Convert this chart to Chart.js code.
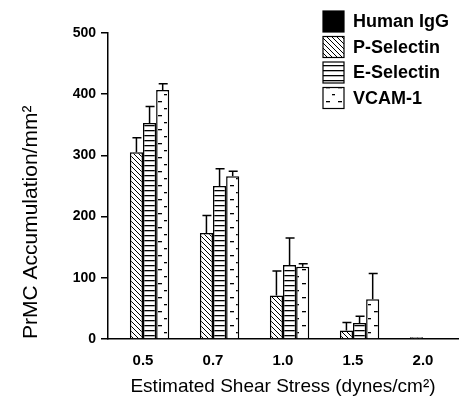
<!DOCTYPE html>
<html>
<head>
<meta charset="utf-8">
<script src="https://cdn.jsdelivr.net/npm/chart.js@4.4.0/dist/chart.umd.min.js"></script>
<style>
  body { margin: 0; background: #fff; }
  #wrap { width: 459px; height: 402px; }
</style>
</head>
<body>
<div id="wrap"><canvas id="barChart" width="459" height="402"></canvas></div>
<script>
// shear stress groups (dynes/cm2)
const shearLabels = ['0.5', '0.7', '1.0', '1.5', '2.0'];
const seriesNames = ['Human IgG', 'P-Selectin', 'E-Selectin', 'VCAM-1'];

// PrMC accumulation / mm2
const humanIgG   = [1, 1, 1, 1, 1];
const pSelectin  = [305, 173, 71, 14, 3];
const eSelectin  = [353, 250, 121, 26, 0];
const vcam1      = [407, 266, 118, 65, 0];

// upper error bar (SEM) heights
const humanIgGErr  = [0, 0, 0, 0, 0];
const pSelectinErr = [24, 29, 40, 13, 0];
const eSelectinErr = [27, 28, 44, 11, 0];
const vcam1Err     = [10, 8, 5, 42, 0];

const yTicks = [0, 100, 200, 300, 400, 500];

// --- fill patterns ---
function makePattern(w, h, draw) {
  const c = document.createElement('canvas');
  c.width = w; c.height = h;
  const g = c.getContext('2d');
  g.fillStyle = '#fff';
  g.fillRect(0, 0, w, h);
  g.strokeStyle = '#000';
  g.fillStyle = '#000';
  draw(g);
  return g.createPattern(c, 'repeat');
}
const ctx0 = document.getElementById('barChart').getContext('2d');
const diagFill = makePattern(5, 5, g => {
  g.lineWidth = 1;
  g.beginPath();
  g.moveTo(-1, -1); g.lineTo(6, 6);
  g.moveTo(-1, 4); g.lineTo(1, 6);
  g.moveTo(4, -1); g.lineTo(6, 1);
  g.stroke();
});
const horizFill = makePattern(8, 5, g => { g.fillRect(0, 0, 8, 1.3); });
const dashFill = makePattern(12, 14, g => {
  g.fillRect(2, 3, 4, 1.3);
  g.fillRect(8, 10, 3, 1.3);
});
const fills = ['#000', diagFill, horizFill, dashFill];

const values = [humanIgG, pSelectin, eSelectin, vcam1];
const errors = [humanIgGErr, pSelectinErr, eSelectinErr, vcam1Err];

// error bars, upward only
const errorBars = {
  id: 'errorBars',
  afterDatasetsDraw(chart) {
    const { ctx, scales: { y } } = chart;
    ctx.save();
    ctx.strokeStyle = '#000';
    ctx.lineWidth = 1.5;
    chart.data.datasets.forEach((ds, i) => {
      const meta = chart.getDatasetMeta(i);
      meta.data.forEach((bar, j) => {
        const e = errors[i][j];
        if (!e) return;
        const yTop = y.getPixelForValue(values[i][j] + e);
        ctx.beginPath();
        ctx.moveTo(bar.x, bar.y);
        ctx.lineTo(bar.x, yTop);
        ctx.moveTo(bar.x - 4, yTop);
        ctx.lineTo(bar.x + 5, yTop);
        ctx.stroke();
      });
    });
    ctx.restore();
  }
};

// boxed legend in the upper right
const boxLegend = {
  id: 'boxLegend',
  afterDraw(chart) {
    const { ctx } = chart;
    const x0 = 323, y0 = 11, size = 21, gap = 25.5;
    ctx.save();
    ctx.font = 'bold 18px "Liberation Sans", Arial, sans-serif';
    ctx.textBaseline = 'middle';
    ctx.textAlign = 'left';
    seriesNames.forEach((name, i) => {
      const yy = y0 + i * gap;
      ctx.fillStyle = fills[i];
      ctx.fillRect(x0, yy, size, size);
      ctx.strokeStyle = '#000';
      ctx.lineWidth = 1.2;
      ctx.strokeRect(x0, yy, size, size);
      ctx.fillStyle = '#000';
      ctx.fillText(name, x0 + size + 9, yy + size / 2 + 1);
    });
    ctx.restore();
  }
};

new Chart(ctx0, {
  type: 'bar',
  data: {
    labels: shearLabels,
    datasets: seriesNames.map((name, i) => ({
      label: name,
      data: values[i],
      backgroundColor: fills[i],
      borderColor: '#000',
      borderWidth: 1.5,
      categoryPercentage: 0.75,
      barPercentage: 1.0
    }))
  },
  options: {
    responsive: false,
    animation: false,
    layout: { padding: { left: 0, right: 1, top: 33, bottom: 0 } },
    plugins: {
      legend: { display: false },
      tooltip: { enabled: false }
    },
    scales: {
      x: {
        grid: { display: false },
        border: { color: '#000', width: 1.5 },
        ticks: {
          color: '#000',
          padding: 5,
          font: { family: '"Liberation Sans", Arial, sans-serif', size: 15, weight: 'bold' }
        },
        title: {
          display: true,
          text: 'Estimated Shear Stress (dynes/cm²)',
          color: '#000',
          padding: { top: 8 },
          font: { family: '"Liberation Sans", Arial, sans-serif', size: 19 }
        },
        afterFit(s) { s.height = 63; }
      },
      y: {
        min: 0,
        max: 500,
        afterBuildTicks(s) { s.ticks = yTicks.map(v => ({ value: v })); },
        grid: { drawOnChartArea: false, tickLength: 7, color: '#000', lineWidth: 1.5 },
        border: { color: '#000', width: 1.5 },
        ticks: {
          color: '#000',
          padding: 5,
          font: { family: '"Liberation Sans", Arial, sans-serif', size: 14, weight: 'bold' }
        },
        title: {
          display: true,
          text: 'PrMC Accumulation/mm²',
          align: 'start',
          color: '#000',
          padding: { top: 19, bottom: 0 },
          font: { family: '"Liberation Sans", Arial, sans-serif', size: 21 }
        },
        afterFit(s) { s.width = 108; }
      }
    }
  },
  plugins: [errorBars, boxLegend]
});
</script>
</body>
</html>
